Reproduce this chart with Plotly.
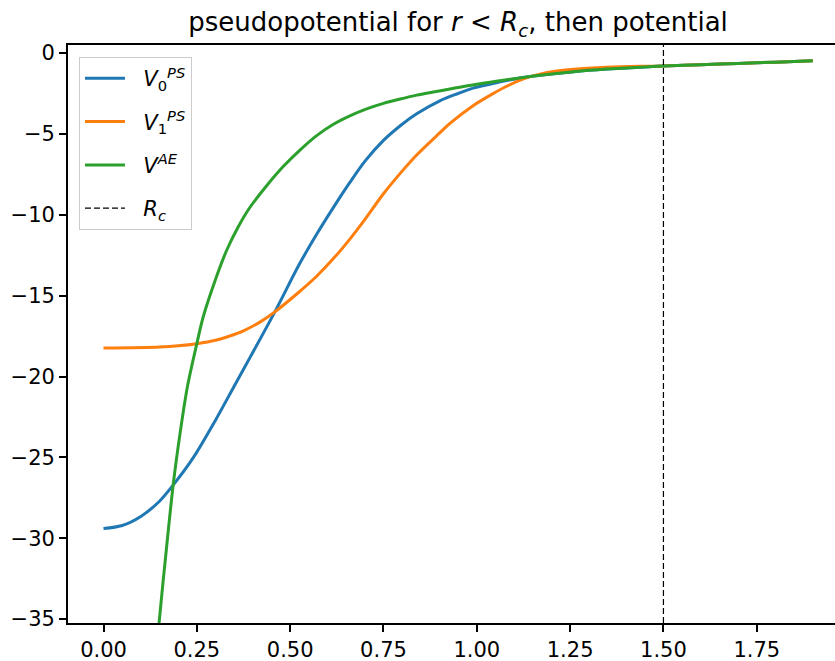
import plotly.graph_objects as go

# ---- data ----
x_v0 = [0.0, 0.05, 0.10, 0.15, 0.187, 0.241, 0.30, 0.35, 0.393, 0.459, 0.526, 0.571,
        0.62, 0.66, 0.70, 0.75, 0.80, 0.839, 0.901, 0.95, 0.99, 1.04, 1.08, 1.12, 1.169,
        1.259, 1.348, 1.437, 1.5, 1.6, 1.7, 1.8, 1.9]
y_v0 = [-29.4, -29.21, -28.65, -27.71, -26.7, -25.0, -22.7, -20.6, -18.8, -16.0, -13.0, -11.2,
        -9.4, -8.0, -6.7, -5.4, -4.4, -3.75, -2.95, -2.5, -2.17, -1.9, -1.70, -1.53, -1.37,
        -1.15, -0.99, -0.87, -0.80, -0.72, -0.64, -0.56, -0.48]

x_v1 = [0.0, 0.15, 0.20, 0.25, 0.30, 0.34, 0.375, 0.42, 0.459, 0.52, 0.571, 0.62, 0.66, 0.70, 0.75,
        0.80, 0.839, 0.90, 0.928, 0.99, 1.04, 1.08, 1.125, 1.169, 1.21, 1.259, 1.348, 1.437,
        1.5, 1.6, 1.7, 1.8, 1.9]
y_v1 = [-18.24, -18.17, -18.1, -17.97, -17.76, -17.48, -17.17, -16.62, -16.0, -14.85, -13.8, -12.6, -11.5, -10.3, -8.7,
        -7.3, -6.3, -4.95, -4.35, -3.25, -2.55, -2.05, -1.6, -1.3, -1.12, -1.0, -0.88, -0.82,
        -0.80, -0.72, -0.64, -0.56, -0.48]

x_ae = [0.135, 0.149, 0.169, 0.187, 0.205, 0.225, 0.25, 0.267, 0.30, 0.33, 0.36, 0.392, 0.437,
        0.482, 0.527, 0.571, 0.616, 0.66, 0.705, 0.75, 0.795, 0.839, 0.88, 0.928, 1.0, 1.08,
        1.169, 1.259, 1.348, 1.437, 1.5, 1.6, 1.7, 1.8, 1.9]
y_ae = [-39.0, -35.2, -30.55, -26.63, -23.53, -20.6, -17.97, -16.32, -14.0, -12.19, -10.78, -9.55, -8.2,
        -7.0, -5.98, -5.1, -4.4, -3.88, -3.45, -3.11, -2.84, -2.6, -2.42, -2.22, -1.93, -1.65,
        -1.37, -1.15, -0.99, -0.87, -0.80, -0.72, -0.64, -0.56, -0.48]

Rc = 1.5
x_ticks = [0.0, 0.25, 0.5, 0.75, 1.0, 1.25, 1.5, 1.75]
y_ticks = [0, -5, -10, -15, -20, -25, -30, -35]

XLIM = [-0.0951, 1.9596]
YLIM = [-35.24, 0.5]

FONT = "DejaVu Sans"
LINE = dict(width=3, shape="spline", smoothing=0.9)
PAD = "&nbsp;&nbsp;"

fig = go.Figure()
fig.add_trace(go.Scatter(x=x_v0, y=y_v0, mode="lines", name=PAD + "<i>V</i><sub>0</sub><sup><i>PS</i></sup>",
                         legendgroup="a", line=dict(color="#1f77b4", **LINE)))
fig.add_trace(go.Scatter(x=x_v1, y=y_v1, mode="lines", name=PAD + "<i>V</i><sub>1</sub><sup><i>PS</i></sup>",
                         legendgroup="b", line=dict(color="#ff7f0e", **LINE)))
fig.add_trace(go.Scatter(x=x_ae, y=y_ae, mode="lines", name=PAD + "<i>V</i><sup><i>AE</i></sup>",
                         legendgroup="c", line=dict(color="#2ca02c", **LINE)))
fig.add_trace(go.Scatter(x=[Rc, Rc], y=YLIM, mode="lines", name=PAD + "<i>R</i><sub><i>c</i></sub>",
                         legendgroup="d", line=dict(color="black", width=1.2, dash="6px,3px")))

fig.update_layout(
    width=835, height=661,
    margin=dict(l=68, r=0, t=45, b=38),
    paper_bgcolor="white", plot_bgcolor="white",
    font=dict(family=FONT, size=21, color="black"),
    title=dict(text="pseudopotential for <i>r</i> &lt; <i>R</i><sub><i>c</i></sub>, then potential",
               x=458 / 835, xref="container", xanchor="center",
               y=1 - 22 / 661, yref="container", yanchor="middle",
               font=dict(family=FONT, size=26, color="black")),
    showlegend=True,
    legend=dict(x=0.0143, y=0.979, xanchor="left", yanchor="top",
                bgcolor="rgba(255,255,255,0.8)", bordercolor="#cccccc", borderwidth=1,
                tracegroupgap=13, itemwidth=40,
                font=dict(family=FONT, size=21, color="black")),
    xaxis=dict(range=XLIM, tickvals=x_ticks, tickformat=".2f", showgrid=False, zeroline=False,
               showline=True, linecolor="black", linewidth=1.7, mirror=True,
               ticks="outside", ticklen=7, tickwidth=1.7, tickcolor="black"),
    yaxis=dict(range=YLIM, tickvals=y_ticks, showgrid=False, zeroline=False,
               showline=True, linecolor="black", linewidth=1.7, mirror=False,
               ticks="outside", ticklen=7, tickwidth=1.7, tickcolor="black"),
)

fig.write_html("out.html", config={"displayModeBar": False},
               post_script="document.body.style.margin='0px';")
